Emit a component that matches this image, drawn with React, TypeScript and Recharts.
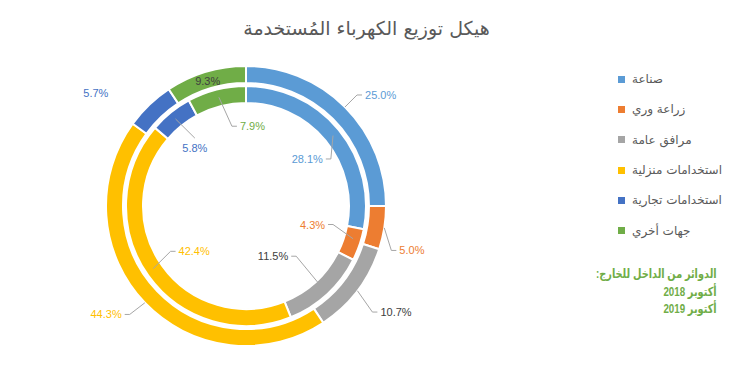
import React from "react";
import { PieChart, Pie, Cell } from "recharts";

const categories = [
  "صناعة",
  "زراعة وري",
  "مرافق عامة",
  "استخدامات منزلية",
  "استخدامات تجارية",
  "جهات أخري",
];
const colors = ["#5B9BD5", "#ED7D31", "#A5A5A5", "#FFC000", "#4472C4", "#70AD47"];
const labelColors = ["#5B9BD5", "#ED7D31", "#404040", "#FFC000", "#4472C4", "#70AD47"];
const share2018 = [28.1, 4.3, 11.5, 42.4, 5.8, 7.9];
const share2019 = [25.0, 5.0, 10.7, 44.3, 5.7, 9.3];

const data2018 = categories.map((name, i) => ({ name, value: share2018[i] }));
const data2019 = categories.map((name, i) => ({ name, value: share2019[i] }));

const CX = 246;
const CY = 206;

// label placement: r/a = elbow (polar, deg clockwise from top), side = text direction
type Place = { r: number; a: number; side: number; sa?: number; below?: boolean; color?: string };

const outerPlaces: Place[] = [
  { r: 157, a: 45, side: 1 },
  { r: 152, a: 107, side: 1 },
  { r: 165, a: 130, side: 1 },
  { r: 159, a: 227, side: -1 },
  { r: 188, a: 307, side: 0 },
  { r: 131, a: 343, side: 0, color: "#404040" },
];
const innerPlaces: Place[] = [
  { r: 97, a: 61, side: -1, sa: 51 },
  { r: 89, a: 102, side: -1, sa: 107 },
  { r: 71, a: 135, side: -1, sa: 137 },
  { r: 88, a: 239, side: 1, sa: 236 },
  { r: 85, a: 323, side: 0, sa: 321, below: true },
  { r: 81, a: 350, side: 1, sa: 346 },
];

const polar = (r: number, a: number) => {
  const rad = (a * Math.PI) / 180;
  return { x: CX + r * Math.sin(rad), y: CY - r * Math.cos(rad) };
};

const makeLabel = (places: Place[], rs: number) => (p: any) => {
  const pl = places[p.index];
  const txt = `${Number(p.value).toFixed(1)}%`;
  const fill = pl.color ?? labelColors[p.index];
  const e = polar(pl.r, pl.a);
  const s = polar(rs, pl.sa ?? 90 - p.midAngle);
  const font = { fontFamily: "'Liberation Sans', Arial, sans-serif", fontSize: 11 };
  if (pl.side === 0) {
    if (pl.below) {
      return (
        <g key={`l${p.index}`}>
          <line x1={s.x} y1={s.y} x2={e.x} y2={e.y} stroke="#A6A6A6" strokeWidth={1} />
          <text x={e.x} y={e.y + 10} fill={fill} textAnchor="middle" dominantBaseline="central" {...font}>
            {txt}
          </text>
        </g>
      );
    }
    return (
      <text key={`l${p.index}`} x={e.x} y={e.y} fill={fill} textAnchor="middle" dominantBaseline="central" {...font}>
        {txt}
      </text>
    );
  }
  const hx = e.x + pl.side * 5;
  return (
    <g key={`l${p.index}`}>
      <polyline
        points={`${s.x},${s.y} ${e.x},${e.y} ${hx},${e.y}`}
        fill="none"
        stroke="#A6A6A6"
        strokeWidth={1}
      />
      <text
        x={hx + pl.side * 3}
        y={e.y}
        fill={fill}
        textAnchor={pl.side > 0 ? "start" : "end"}
        dominantBaseline="central"
        {...font}
      >
        {txt}
      </text>
    </g>
  );
};

export default function App() {
  return (
    <div
      style={{
        position: "absolute",
        left: 0,
        top: 0,
        width: 733,
        height: 382,
        background: "#fff",
        fontFamily: "'DejaVu Sans', sans-serif",
      }}
    >
      <div
        style={{
          position: "absolute",
          top: 17,
          left: 0,
          width: 733,
          textAlign: "center",
          fontSize: 19,
          color: "#595959",
        }}
      >
        هيكل توزيع الكهرباء المُستخدمة
      </div>
      <PieChart width={733} height={382} margin={{ top: 0, right: 0, bottom: 0, left: 0 }}>
        <Pie
          data={data2018}
          dataKey="value"
          cx={CX}
          cy={CY}
          innerRadius={103}
          outerRadius={120}
          startAngle={90}
          endAngle={-270}
          stroke="#fff"
          strokeWidth={2}
          labelLine={false}
          label={makeLabel(innerPlaces, 112)}
          isAnimationActive={false}
        >
          {data2018.map((d, i) => (
            <Cell key={d.name} fill={colors[i]} />
          ))}
        </Pie>
        <Pie
          data={data2019}
          dataKey="value"
          cx={CX}
          cy={CY}
          innerRadius={123}
          outerRadius={140}
          startAngle={90}
          endAngle={-270}
          stroke="#fff"
          strokeWidth={2}
          labelLine={false}
          label={makeLabel(outerPlaces, 140)}
          isAnimationActive={false}
        >
          {data2019.map((d, i) => (
            <Cell key={d.name} fill={colors[i]} />
          ))}
        </Pie>
      </PieChart>
      <div style={{ position: "absolute", left: 618, top: 64 }}>
        {categories.map((c, i) => (
          <div
            key={c}
            style={{ display: "flex", alignItems: "center", height: 30.3, fontSize: 12, color: "#595959" }}
          >
            <span style={{ width: 7, height: 7, background: colors[i], marginRight: 7, flexShrink: 0 }} />
            <span style={{ whiteSpace: "nowrap" }}>{c}</span>
          </div>
        ))}
      </div>
      <div
        dir="rtl"
        style={{
          position: "absolute",
          right: 16,
          top: 266,
          fontSize: 12.5,
          lineHeight: "17.5px",
          fontWeight: "bold",
          color: "#70AD47",
          textAlign: "right",
          transform: "scaleX(0.78)",
          transformOrigin: "right top",
          fontFamily: "'Liberation Sans', 'DejaVu Sans', sans-serif",
        }}
      >
        <div>الدوائر من الداخل للخارج:</div>
        <div>أكتوبر 2018</div>
        <div>أكتوبر 2019</div>
      </div>
    </div>
  );
}
